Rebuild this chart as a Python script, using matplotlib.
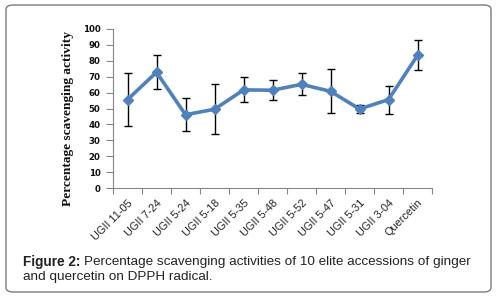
import matplotlib
matplotlib.use("Agg")
import matplotlib.pyplot as plt
from matplotlib.patches import FancyBboxPatch
import numpy as np

categories = ["UGII 11-05", "UGII 7-24", "UGII 5-24", "UGII 5-18", "UGII 5-35",
              "UGII 5-48", "UGII 5-52", "UGII 5-47", "UGII 5-31", "UGII 3-04", "Quercetin"]
values = [55.6, 72.8, 46.1, 49.5, 61.7, 61.5, 65.2, 60.8, 49.7, 55.6, 83.4]
errors = [16.6, 10.6, 10.3, 15.7, 7.8, 6.3, 6.9, 13.8, 2.7, 8.8, 9.4]
yticks = list(range(0, 101, 10))

W, H = 496, 297
fig = plt.figure(figsize=(W / 100, H / 100), dpi=100)

# rounded border
border = FancyBboxPatch((6 / W, 5 / H), (491 - 6) / W, (292 - 5) / H,
                        boxstyle="round,pad=0,rounding_size=0.015",
                        transform=fig.transFigure, facecolor="none",
                        edgecolor="#7a7a7a", linewidth=1.0, zorder=-1)
fig.patches.append(border)

left, right, top, bottom = 113, 432, 29, 188
ax = fig.add_axes([left / W, 1 - bottom / H, (right - left) / W, (bottom - top) / H])
ax.set_facecolor("none")

x = np.arange(len(categories))
ax.errorbar(x, values, yerr=errors, fmt="none", ecolor="black", elinewidth=1.0,
            capsize=3, capthick=1.0, zorder=2)
ax.plot(x, values, color="#4F81BD", linewidth=2.6, marker="D", markersize=5.5,
        markerfacecolor="#4F81BD", markeredgecolor="#4F81BD", zorder=3)

ax.set_xlim(-0.5, len(categories) - 0.5)
ax.set_ylim(0, 100)
ax.set_yticks(yticks)
ax.set_yticklabels([str(t) for t in yticks], fontsize=6.2, fontweight="bold",
                   family="DejaVu Sans", color="#111111")
ax.set_xticks(x)
ax.set_xticklabels(categories, rotation=45, ha="right", rotation_mode="anchor",
                   fontsize=7.8, family="Liberation Sans", color="#222222")
ax.set_xticks(np.arange(-0.5, len(categories)), minor=True)
ax.tick_params(axis="x", which="major", length=0, pad=7)
ax.tick_params(axis="x", which="minor", length=4, color="#868686", width=0.8)
ax.tick_params(axis="y", length=5, color="#868686", width=0.8, pad=4)

for s in ["top", "right"]:
    ax.spines[s].set_visible(False)
for s in ["left", "bottom"]:
    ax.spines[s].set_color("#868686")
    ax.spines[s].set_linewidth(0.8)

fig.text(68 / W, 1 - 118 / H, "Percentage scavenging activity", rotation=90,
         ha="center", va="center", fontsize=9.6, fontweight="bold",
         family="Liberation Serif", color="#111111")

t1 = fig.text(23 / W, 1 - 262 / H, "Figure 2:", ha="left", va="center", fontsize=9.8,
              fontweight="bold", family="Liberation Sans", color="#222222")
fig.canvas.draw()
bb = t1.get_window_extent()
fig.text((bb.x1 + 4) / W, 1 - 262 / H,
         "Percentage scavenging activities of 10 elite accessions of ginger",
         ha="left", va="center", fontsize=9.7, family="Liberation Sans", color="#222222")
fig.text(23 / W, 1 - 277 / H, "and quercetin on DPPH radical.", ha="left", va="center",
         fontsize=9.7, family="Liberation Sans", color="#222222")

fig.savefig("out.png", dpi=100)
